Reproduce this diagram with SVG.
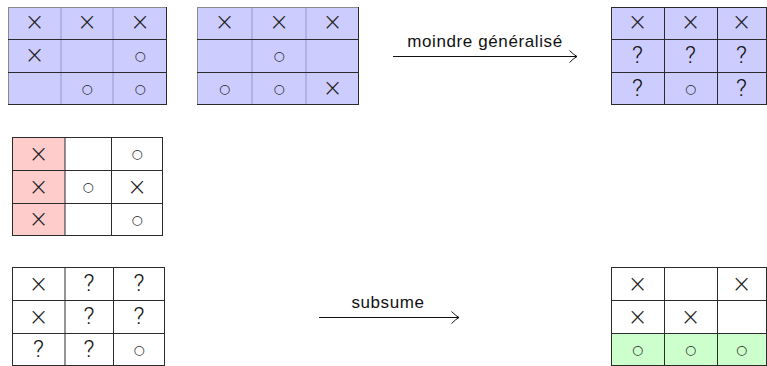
<svg xmlns="http://www.w3.org/2000/svg" width="767" height="366" viewBox="0 0 767 366">
  <defs>
    <style>
      .grid { stroke: #2b2b2b; stroke-width: 1; fill: none; }
      .soft { stroke: #9a9ac6; stroke-width: 1; fill: none; }
      .edge { stroke: #8a8a8a; stroke-width: 1; fill: none; }
      .blue { fill: #ccccff; }
      .red { fill: #ffcccc; }
      .green { fill: #ccffcc; }
      .white { fill: #ffffff; }
      .x { font-family: "DejaVu Sans", sans-serif; font-size: 24px; font-weight: 200; fill: #222; text-anchor: middle; dominant-baseline: central; }
      .o { font-family: "DejaVu Sans", sans-serif; font-size: 12.5px; fill: #222; text-anchor: middle; dominant-baseline: central; }
      .q { font-family: Roboto, "Liberation Sans", sans-serif; font-size: 24px; font-weight: 300; fill: #111; text-anchor: middle; }
      .lbl { font-family: "Liberation Sans", sans-serif; font-size: 17px; fill: #111; text-anchor: middle; letter-spacing: 0.6px; }
      .arrow { stroke: #111; stroke-width: 1; fill: none; }
    </style>
    <marker id="head" markerUnits="userSpaceOnUse" viewBox="-9 -7 10 14" markerWidth="10" markerHeight="14" refX="0" refY="0" orient="auto">
      <path d="M-7.5,-6 Q-3,-1.5 0,0 Q-3,1.5 -7.5,6" stroke="#111" stroke-width="1" fill="none"/>
    </marker>
  </defs>

  <!-- Grid A: top left, all blue -->
  <g id="gridA">
    <rect class="blue" x="8" y="7" width="159" height="97.5"/>
    <path class="soft" d="M61,7 V104.5 M113,7 V104.5"/>
    <path class="edge" d="M8.5,7.5 V104.5 M8,7.5 H167"/>
    <path class="grid" d="M8,39.5 H167 M8,72.5 H167 M166.5,7 V105 M8,104.5 H167"/>
    <text class="x" x="34.5" y="22">×</text>
    <text class="x" x="87" y="22">×</text>
    <text class="x" x="140" y="22">×</text>
    <text class="x" x="34.5" y="55">×</text>
    <text class="o" x="140" y="55">○</text>
    <text class="o" x="87" y="88">○</text>
    <text class="o" x="140" y="88">○</text>
  </g>

  <!-- Grid B: top, second, all blue -->
  <g id="gridB">
    <rect class="blue" x="197" y="7" width="162" height="97.5"/>
    <path class="soft" d="M252,7 V104.5 M306,7 V104.5"/>
    <path class="edge" d="M197.5,7.5 V104.5 M197,7.5 H359"/>
    <path class="grid" d="M197,39.5 H359 M197,72.5 H359 M358.5,7 V105 M197,104.5 H359"/>
    <text class="x" x="224.5" y="22">×</text>
    <text class="x" x="279" y="22">×</text>
    <text class="x" x="332.5" y="22">×</text>
    <text class="o" x="279" y="55">○</text>
    <text class="o" x="224.5" y="88">○</text>
    <text class="o" x="279" y="88">○</text>
    <text class="x" x="332.5" y="88">×</text>
  </g>

  <!-- Grid C: top right, generalisation result -->
  <g id="gridC">
    <rect class="blue" x="611" y="7" width="155" height="97.5"/>
    <path class="grid" d="M611.5,7 V105 M664.5,7 V104.5 M717.5,7 V104.5 M766.5,7 V104.5 M611,7.5 H767 M611,39.5 H767 M611,72.5 H767 M611,104.5 H767"/>
    <text class="x" x="637.5" y="22">×</text>
    <text class="x" x="690.5" y="22">×</text>
    <text class="x" x="741.5" y="22">×</text>
    <text class="q" x="637.5" y="62.5">?</text>
    <text class="q" x="690.5" y="62.5">?</text>
    <text class="q" x="741.5" y="62.5">?</text>
    <text class="q" x="637.5" y="95.5">?</text>
    <text class="o" x="690.5" y="88">○</text>
    <text class="q" x="741.5" y="95.5">?</text>
  </g>

  <!-- Grid D: middle left, first column red -->
  <g id="gridD">
    <rect class="white" x="12" y="137" width="151" height="98.5"/>
    <rect class="red" x="12" y="137" width="53" height="98.5"/>
    <path class="grid" d="M12.5,137 V236 M65,137 V235.5 M111.5,137 V235.5 M162.5,137 V236 M12,137.5 H163 M12,170.5 H163 M12,203.5 H163 M12,235.5 H163"/>
    <text class="x" x="38.5" y="153.5">×</text>
    <text class="o" x="137" y="153.5">○</text>
    <text class="x" x="38.5" y="186.5">×</text>
    <text class="o" x="88" y="186.5">○</text>
    <text class="x" x="137" y="186.5">×</text>
    <text class="x" x="38.5" y="219">×</text>
    <text class="o" x="137" y="219">○</text>
  </g>

  <!-- Grid E: bottom left -->
  <g id="gridE">
    <rect class="white" x="12" y="267" width="153" height="98.5"/>
    <path class="grid" d="M12.5,267 V366 M65,267 V365.5 M113.5,267 V365.5 M164.5,267 V366 M12,267.5 H165 M12,300.5 H165 M12,333.5 H165 M12,365.5 H165"/>
    <text class="x" x="38.5" y="283.5">×</text>
    <text class="q" x="89" y="290.5">?</text>
    <text class="q" x="139" y="290.5">?</text>
    <text class="x" x="38.5" y="316.5">×</text>
    <text class="q" x="89" y="323.5">?</text>
    <text class="q" x="139" y="323.5">?</text>
    <text class="q" x="38.5" y="356.5">?</text>
    <text class="q" x="89" y="356.5">?</text>
    <text class="o" x="139" y="349.5">○</text>
  </g>

  <!-- Grid F: bottom right, last row green -->
  <g id="gridF">
    <rect class="white" x="611" y="267" width="155" height="98.5"/>
    <rect class="green" x="611" y="333.5" width="155" height="32"/>
    <path class="grid" d="M611.5,267 V366 M664.5,267 V365.5 M717.5,267 V365.5 M766.5,267 V366 M611,267.5 H767 M611,300.5 H767 M611,333.5 H767 M611,365.5 H767"/>
    <text class="x" x="637.5" y="283.5">×</text>
    <text class="x" x="741.5" y="283.5">×</text>
    <text class="x" x="637.5" y="316.5">×</text>
    <text class="x" x="690.5" y="316.5">×</text>
    <text class="o" x="637.5" y="349.5">○</text>
    <text class="o" x="690.5" y="349.5">○</text>
    <text class="o" x="741.5" y="349.5">○</text>
  </g>

  <!-- Connectors -->
  <g id="connectors">
    <line class="arrow" x1="393" y1="56.5" x2="577" y2="56.5" marker-end="url(#head)"/>
    <text class="lbl" x="485" y="47">moindre généralisé</text>
    <line class="arrow" x1="319" y1="317.5" x2="459" y2="317.5" marker-end="url(#head)"/>
    <text class="lbl" x="388" y="308">subsume</text>
  </g>
</svg>
